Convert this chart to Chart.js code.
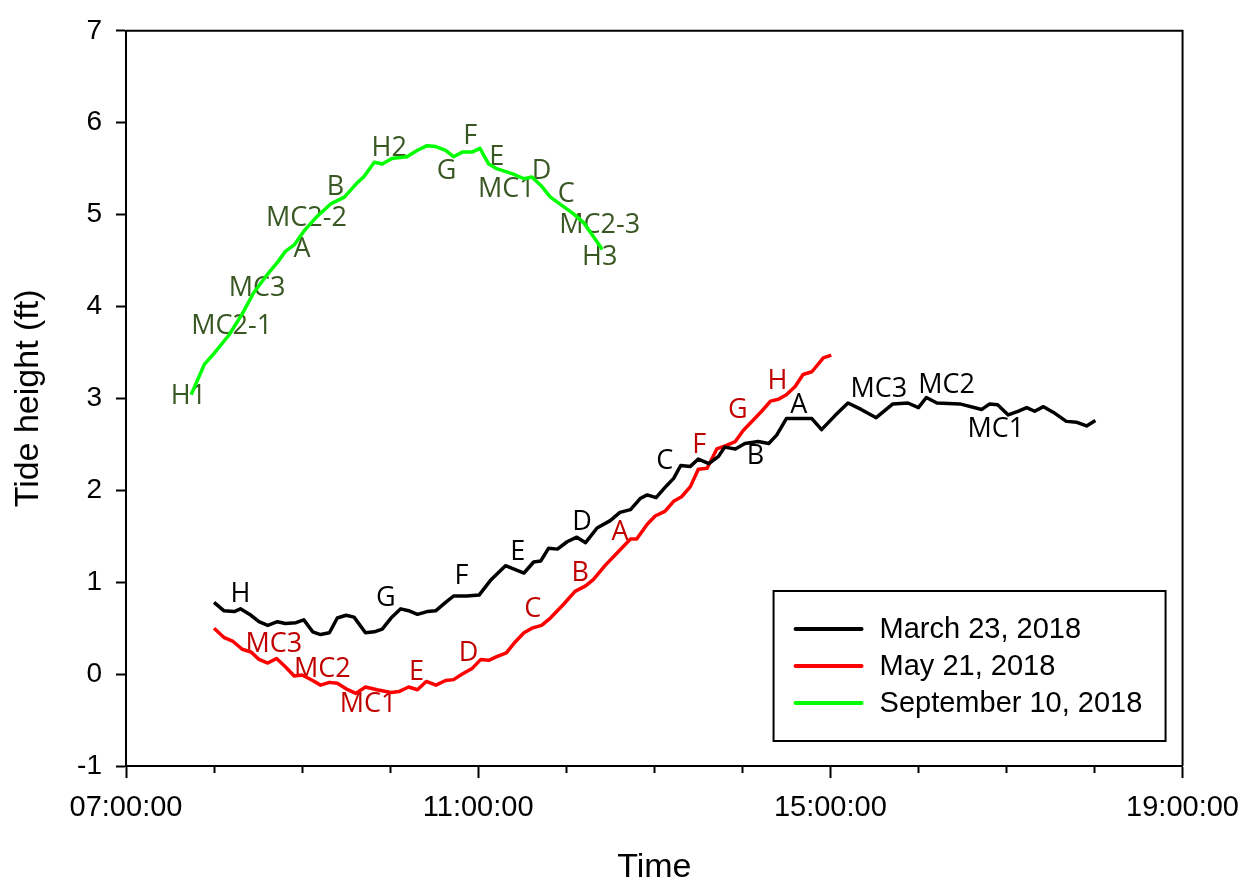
<!DOCTYPE html>
<html>
<head>
<meta charset="utf-8">
<script src="https://cdn.jsdelivr.net/npm/chart.js@4.4.0/dist/chart.umd.min.js"></script>
<style>
  html, body { margin: 0; padding: 0; background: #fff; }
  #wrap { width: 1252px; height: 884px; }
</style>
</head>
<body>
<div id="wrap"><canvas id="myChart" width="1252" height="884"></canvas></div>
<script>
// times are decimal hours, heights in ft
var marchT = [8.0, 8.11, 8.23, 8.30, 8.42, 8.51, 8.61, 8.72, 8.81, 8.93, 9.02, 9.12, 9.21, 9.31, 9.40, 9.50, 9.59, 9.72, 9.82, 9.91,
  10.01, 10.12, 10.21, 10.31, 10.42, 10.52, 10.63, 10.72, 10.87, 11.01, 11.14, 11.31, 11.52, 11.63, 11.71, 11.80, 11.90, 12.01, 12.12, 12.22,
  12.35, 12.50, 12.61, 12.73, 12.84, 12.92, 13.02, 13.14, 13.22, 13.30, 13.41, 13.50, 13.62, 13.73, 13.80, 13.92, 14.03, 14.18, 14.30, 14.39,
  14.50, 14.79, 14.90, 15.05, 15.20, 15.35, 15.52, 15.71, 15.88, 16.00, 16.09, 16.21, 16.47, 16.72, 16.81, 16.90, 17.02, 17.13, 17.23, 17.32,
  17.42, 17.53, 17.68, 17.80, 17.91, 18.01]
var marchH = [0.78, 0.69, 0.68, 0.71, 0.64, 0.57, 0.53, 0.57, 0.55, 0.56, 0.59, 0.46, 0.43, 0.45, 0.61, 0.64, 0.62, 0.45, 0.46, 0.49,
  0.61, 0.71, 0.69, 0.65, 0.68, 0.69, 0.78, 0.85, 0.85, 0.86, 1.02, 1.18, 1.10, 1.22, 1.23, 1.37, 1.36, 1.44, 1.49, 1.43,
  1.59, 1.67, 1.76, 1.79, 1.91, 1.95, 1.92, 2.05, 2.13, 2.27, 2.26, 2.34, 2.29, 2.37, 2.47, 2.45, 2.51, 2.53, 2.51, 2.60,
  2.78, 2.78, 2.66, 2.81, 2.95, 2.88, 2.79, 2.94, 2.95, 2.90, 3.01, 2.95, 2.94, 2.88, 2.94, 2.93, 2.82, 2.86, 2.90, 2.86,
  2.91, 2.85, 2.75, 2.74, 2.70, 2.76]

var mayT = [8.0, 8.11, 8.21, 8.32, 8.42, 8.51, 8.61, 8.71, 8.81, 8.91, 9.00, 9.12, 9.21, 9.31, 9.40, 9.50, 9.61, 9.72, 9.85, 10.01,
  10.10, 10.21, 10.31, 10.41, 10.52, 10.63, 10.72, 10.82, 10.93, 11.03, 11.12, 11.21, 11.32, 11.42, 11.52, 11.61, 11.72, 11.82, 11.97, 12.10,
  12.22, 12.31, 12.44, 12.58, 12.73, 12.80, 12.92, 13.01, 13.12, 13.22, 13.31, 13.41, 13.50, 13.60, 13.71, 13.82, 13.92, 14.01, 14.13, 14.22,
  14.32, 14.41, 14.50, 14.60, 14.69, 14.79, 14.92, 15.01]
var mayH = [0.50, 0.40, 0.36, 0.27, 0.24, 0.16, 0.12, 0.17, 0.08, -0.02, -0.01, -0.07, -0.12, -0.09, -0.10, -0.16, -0.21, -0.14, -0.17, -0.20,
  -0.19, -0.14, -0.17, -0.08, -0.12, -0.07, -0.06, 0.00, 0.06, 0.16, 0.15, 0.19, 0.23, 0.35, 0.45, 0.50, 0.53, 0.61, 0.76, 0.90,
  0.96, 1.03, 1.18, 1.32, 1.47, 1.47, 1.63, 1.72, 1.77, 1.88, 1.93, 2.04, 2.23, 2.24, 2.45, 2.49, 2.53, 2.65, 2.77, 2.86,
  2.97, 2.99, 3.04, 3.13, 3.26, 3.29, 3.44, 3.47]

var sepT = [7.74, 7.89, 8.00, 8.17, 8.32, 8.45, 8.59, 8.72, 8.81, 8.91, 9.02, 9.17, 9.33, 9.48, 9.63, 9.70, 9.82, 9.91, 10.02, 10.19,
  10.31, 10.42, 10.52, 10.63, 10.72, 10.82, 10.93, 11.02, 11.12, 11.21, 11.40, 11.52, 11.61, 11.71, 11.82, 11.95, 12.08, 12.20, 12.31, 12.41]
var sepH = [3.04, 3.37, 3.49, 3.69, 3.92, 4.15, 4.33, 4.48, 4.60, 4.67, 4.82, 4.98, 5.12, 5.19, 5.35, 5.41, 5.57, 5.55, 5.61, 5.63,
  5.70, 5.75, 5.74, 5.70, 5.63, 5.68, 5.68, 5.72, 5.55, 5.50, 5.44, 5.39, 5.41, 5.32, 5.19, 5.10, 5.01, 4.91, 4.76, 4.62]

var seriesNames = ['March 23, 2018', 'May 21, 2018', 'September 10, 2018']
var seriesColors = ['#000000', '#ff0000', '#00ff00']

var tickHours = [7, 11, 15, 19]
var tickLabels = ['07:00:00', '11:00:00', '15:00:00', '19:00:00']

// site labels: [text, time, height]
var marchLabels = [['H', 8.30, 0.87], ['G', 9.95, 0.82], ['F', 10.81, 1.06], ['E', 11.45, 1.33], ['D', 12.18, 1.65],
  ['C', 13.12, 2.32], ['B', 14.15, 2.37], ['A', 14.64, 2.93], ['MC3', 15.55, 3.10], ['MC2', 16.32, 3.14], ['MC1', 16.88, 2.66]]
var mayLabels = [['MC3', 8.68, 0.32], ['MC2', 9.23, 0.05], ['MC1', 9.75, -0.33], ['E', 10.30, 0.02], ['D', 10.89, 0.23],
  ['C', 11.62, 0.70], ['B', 12.16, 1.10], ['A', 12.61, 1.54], ['F', 13.51, 2.49], ['G', 13.95, 2.87], ['H', 14.40, 3.19]]
var sepLabels = [['H1', 7.71, 3.02], ['MC2-1', 8.20, 3.78], ['MC3', 8.49, 4.20], ['A', 9.00, 4.62], ['MC2-2', 9.05, 4.96],
  ['B', 9.38, 5.30], ['H2', 9.99, 5.72], ['G', 10.64, 5.47], ['F', 10.91, 5.85], ['E', 11.21, 5.62], ['MC1', 11.32, 5.27],
  ['D', 11.72, 5.47], ['C', 12.00, 5.22], ['MC2-3', 12.38, 4.88], ['H3', 12.38, 4.54]]
var labelColors = ['#000000', '#c00000', '#385723']

function pts(t, h) {
  return t.map((v, i) => ({x: v, y: h[i]}))
}

var siteLabels = {
  id: 'siteLabels',
  beforeDatasetsDraw(chart) {
    let c = chart.ctx
    let xs = chart.scales.x, ys = chart.scales.y
    c.save()
    c.font = '27px "Open Sans"'
    c.textAlign = 'center'
    c.textBaseline = 'middle'
    ;[marchLabels, mayLabels, sepLabels].forEach((list, k) => {
      c.fillStyle = labelColors[k]
      list.forEach(l => c.fillText(l[0], xs.getPixelForValue(l[1]), ys.getPixelForValue(l[2])))
    })
    c.restore()
  }
}

var frameAndLegend = {
  id: 'frameAndLegend',
  afterDraw(chart) {
    let c = chart.ctx
    let a = chart.chartArea
    c.save()
    c.strokeStyle = '#000'
    c.lineWidth = 2
    c.beginPath()
    c.moveTo(a.left, a.top); c.lineTo(a.right, a.top); c.lineTo(a.right, a.bottom)
    c.stroke()
    // legend box
    let w = 392, h = 150
    let bx = a.right - 17 - w, by = a.bottom - 25 - h
    c.strokeRect(bx, by, w, h)
    c.font = '29px "Liberation Sans", Arial'
    c.textBaseline = 'middle'
    c.textAlign = 'left'
    chart.data.datasets.forEach((ds, i) => {
      let yy = by + 38 + i * 37
      c.strokeStyle = ds.borderColor
      c.lineWidth = 4
      c.lineCap = 'round'
      c.beginPath(); c.moveTo(bx + 22, yy); c.lineTo(bx + 88, yy); c.stroke()
      c.fillStyle = '#000'
      c.fillText(ds.label, bx + 106, yy + 1)
    })
    c.restore()
  }
}

var ctx = document.getElementById('myChart').getContext('2d')
var myChart = new Chart(ctx, {
  type: 'line',
  data: {
    datasets: [
      {label: seriesNames[0], data: pts(marchT, marchH), borderColor: seriesColors[0]},
      {label: seriesNames[1], data: pts(mayT, mayH), borderColor: seriesColors[1]},
      {label: seriesNames[2], data: pts(sepT, sepH), borderColor: seriesColors[2]}
    ]
  },
  options: {
    responsive: false,
    animation: false,
    parsing: false,
    layout: {padding: {top: 22, right: 69, left: 0, bottom: 0}},
    elements: {
      line: {borderWidth: 3.5, tension: 0, fill: false, borderJoinStyle: 'round'},
      point: {radius: 0}
    },
    plugins: {
      legend: {display: false},
      tooltip: {enabled: false}
    },
    scales: {
      x: {
        type: 'linear',
        min: 7,
        max: 19,
        afterFit: s => { s.height = 118 },
        border: {display: true, color: '#000', width: 2},
        grid: {
          drawOnChartArea: false,
          color: '#000',
          tickColor: '#000',
          tickLength: 12,
          tickWidth: 2,
          tickBorderDash: c => (tickHours.indexOf(c.tick && c.tick.value) < 0 ? [6, 30] : [])
        },
        ticks: {
          stepSize: 1,
          autoSkip: false,
          maxRotation: 0,
          padding: 13,
          color: '#000',
          font: {family: '"Liberation Sans", Arial', size: 29},
          callback: v => { let i = tickHours.indexOf(v); return i < 0 ? '' : tickLabels[i] }
        },
        title: {
          display: true,
          text: 'Time',
          color: '#000',
          font: {family: '"Liberation Sans", Arial', size: 34, lineHeight: 0.94},
          padding: {top: 0, bottom: 0}
        }
      },
      y: {
        min: -1,
        max: 7,
        afterFit: s => { s.width = 126 },
        border: {display: true, color: '#000', width: 2},
        grid: {drawOnChartArea: false, color: '#000', tickColor: '#000', tickLength: 10, tickWidth: 2},
        ticks: {
          stepSize: 1,
          padding: 14,
          color: '#000',
          font: {family: '"Liberation Sans", Arial', size: 28}
        },
        title: {
          display: true,
          text: 'Tide height (ft)',
          color: '#000',
          font: {family: '"Liberation Sans", Arial', size: 34},
          padding: {top: 8, bottom: 0}
        }
      }
    }
  },
  plugins: [siteLabels, frameAndLegend]
})
</script>
</body>
</html>
